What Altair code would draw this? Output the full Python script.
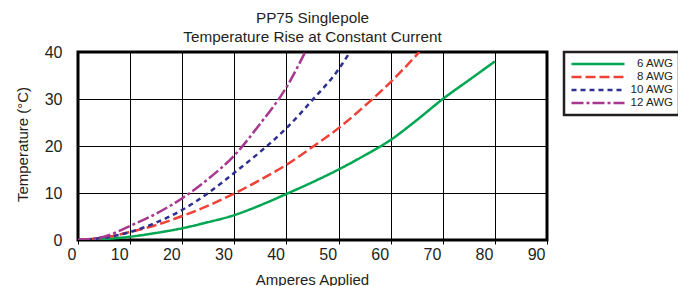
import altair as alt
import pandas as pd

# Data
series_names = ["6 AWG", "8 AWG", "10 AWG", "12 AWG"]

amps_6 = [0, 5, 10, 15, 20, 25, 30, 35, 40, 45, 50, 55, 60, 65, 70, 75, 80]
temp_6 = [0, 0.2, 0.7, 1.5, 2.5, 3.8, 5.3, 7.4, 9.8, 12.3, 15.0, 18.0, 21.3, 25.5, 30.0, 34.0, 38.0]

amps_8 = [0, 5, 10, 15, 20, 25, 30, 35, 40, 45, 50, 55, 60, 65.5]
temp_8 = [0, 0.5, 1.7, 3.2, 5.1, 7.3, 9.9, 12.8, 16.0, 19.8, 23.8, 28.5, 33.6, 40.0]

amps_10 = [0, 5, 10, 15, 20, 25, 30, 35, 40, 45, 50, 52.2]
temp_10 = [0, 0.5, 1.7, 3.7, 6.4, 10.0, 14.3, 18.8, 23.8, 29.8, 36.3, 40.0]

amps_12 = [0, 5, 10, 15, 20, 25, 30, 35, 40, 43.6]
temp_12 = [0, 0.7, 3.0, 5.6, 8.9, 13.0, 18.0, 24.8, 32.5, 40.0]

x_ticks = [0, 10, 20, 30, 40, 50, 60, 70, 80, 90]
y_ticks = [0, 10, 20, 30, 40]

colors = ["#00a651", "#ef4136", "#2e3192", "#a8378f"]
dashes = [[1, 0], [10, 4], [5, 4], [12, 3, 3, 3]]

rows = []
for name, xs, ys in zip(series_names, [amps_6, amps_8, amps_10, amps_12],
                        [temp_6, temp_8, temp_10, temp_12]):
    for i, (a, t) in enumerate(zip(xs, ys)):
        rows.append({"series": name, "amps": a, "temp": t, "order": i})
df = pd.DataFrame(rows)

FONT = "Liberation Sans"
TXT = "#231f20"

chart = alt.Chart(df).mark_line(strokeWidth=2.5, interpolate="monotone", clip=True).encode(
    x=alt.X("amps:Q",
            scale=alt.Scale(domain=[0, 90], nice=False, zero=False),
            axis=alt.Axis(values=x_ticks, title="Amperes Applied", tickSize=4, labelPadding=2,
                          labelAlign="right", labelOffset=-2,
                          titleY=44, titleBaseline="alphabetic", titleX=234)),
    y=alt.Y("temp:Q",
            scale=alt.Scale(domain=[0, 40], nice=False),
            axis=alt.Axis(values=y_ticks, title="Temperature (°C)", ticks=False, labelPadding=16,
                          titleX=-56, titleY=92, titleAlign="center", titleBaseline="middle",
                          titleAngle=270)),
    color=alt.Color("series:N", scale=alt.Scale(domain=series_names, range=colors),
                    legend=alt.Legend(title=None)),
    strokeDash=alt.StrokeDash("series:N", scale=alt.Scale(domain=series_names, range=dashes),
                              legend=alt.Legend(title=None)),
    order="order:Q",
).properties(
    width=469,
    height=188,
    title=alt.TitleParams(["PP75 Singlepole", "Temperature Rise at Constant Current"],
                          fontSize=15.3, fontWeight="normal", font=FONT, color=TXT,
                          anchor="middle", lineHeight=19, offset=-1),
    autosize=alt.AutoSizeParams(type="none"),
    padding={"left": 70, "top": 44, "right": 131, "bottom": 46},
).configure_view(
    stroke="black", strokeWidth=3
).configure_axis(
    labelFont=FONT, labelFontSize=16, labelColor=TXT,
    titleFont=FONT, titleFontSize=15, titleFontWeight="normal", titleColor=TXT,
    grid=True, gridColor="black", gridWidth=1, gridOpacity=1,
    domain=False, tickColor="black", tickWidth=1,
).configure_legend(
    orient="none", legendX=486, legendY=0,
    strokeColor="#231f20", strokeWidth=2.5, padding=6, fillColor="white",
    symbolType="stroke", symbolSize=2809, symbolStrokeWidth=2.5, clipHeight=12,
    rowPadding=1, labelFont=FONT, labelFontSize=11.5, labelColor=TXT,
    labelAlign="right", labelOffset=47,
)

chart.save("out.html", embed_options={"renderer": "svg", "actions": False})
